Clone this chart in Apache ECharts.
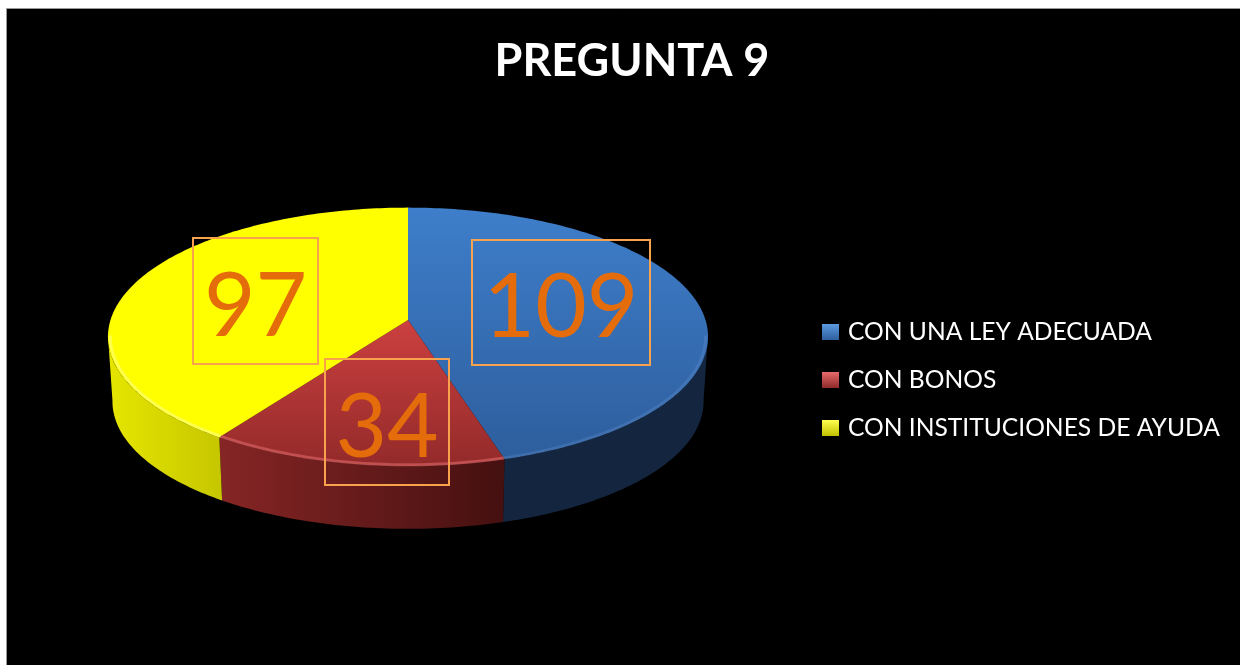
<!DOCTYPE html>
<html>
<head>
<meta charset="utf-8">
<title>PREGUNTA 9</title>
<script src="https://cdn.jsdelivr.net/npm/echarts@6/dist/echarts.min.js"></script>
<style>
  html, body { margin: 0; padding: 0; background: #fff; overflow: hidden; }
  #chart { width: 1240px; height: 665px; }
</style>
</head>
<body>
<div id="chart"></div>
<script>
const categories = ['CON UNA LEY ADECUADA', 'CON BONOS', 'CON INSTITUCIONES DE AYUDA'];
const values = [109, 34, 97];

// slice looks, same order as categories
const topFrom = ['#3e7eca', '#cc4040', '#ffff00'];
const topTo = ['#2d5d9c', '#942a2a', '#ffff00'];
const wallFrom = ['#14263f', '#862525', '#e6e600'];
const wallTo = ['#14263f', '#451010', '#c6c600'];
const rimColor = ['rgba(125,165,225,0.22)', 'rgba(235,115,115,0.5)', 'rgba(255,255,130,0.6)'];
const legendFrom = ['#5b9ae0', '#e86a6a', '#ffff50'];
const legendTo = ['#2f5f9f', '#8e2a2a', '#c0c000'];

// label boxes [x, y, w, h]
const labelBoxes = [[472, 240, 178, 125], [325, 359, 124, 126], [193, 238, 125, 126]];

// the tilted disc, a circle seen in perspective
const cx = 408;
const cy = 320;
const radius = 297.5;
const flat = 127;
const persp = 0.13;
const wallDrop = 65;
const wallShrink = 0.985;
const seenFrom = 97;
const seenTo = 263;

const total = values.reduce((a, b) => a + b, 0);

function discPoint(deg, scale, drop) {
  const t = deg * Math.PI / 180;
  const w = 1 + persp * Math.cos(t);
  return [cx + radius * scale * Math.sin(t) / w, cy + drop - flat * scale * Math.cos(t) / w];
}

function arc(from, to, scale, drop) {
  const pts = [];
  const n = Math.max(1, Math.ceil(to - from));
  for (let i = 0; i <= n; i++) {
    pts.push(discPoint(from + (to - from) * i / n, scale, drop));
  }
  return pts;
}

function gradient(x, y, x2, y2, c1, c2, global) {
  return { type: 'linear', x, y, x2, y2, global, colorStops: [{ offset: 0, color: c1 }, { offset: 1, color: c2 }] };
}

function renderSlice(params, api) {
  const i = params.seriesIndex;
  const before = values.slice(0, i).reduce((a, b) => a + b, 0);
  const start = before / total * 360;
  const end = (before + api.value(0)) / total * 360;
  const children = [];

  const a0 = Math.max(start, seenFrom);
  const a1 = Math.min(end, seenTo);
  if (a1 > a0) {
    const upper = arc(a0, a1, 1, 0);
    const lower = arc(a0, a1, wallShrink, wallDrop).reverse();
    const xs = upper.concat(lower).map((p) => p[0]);
    children.push({
      type: 'polygon',
      z2: 1,
      shape: { points: upper.concat(lower) },
      style: { fill: gradient(Math.min(...xs), 0, Math.max(...xs), 0, i === 0 ? wallTo[i] : wallFrom[i], i === 0 ? wallFrom[i] : wallTo[i], true) },
    });
  }

  children.push({
    type: 'polygon',
    z2: 2,
    shape: { points: [[cx, cy]].concat(arc(start, end, 1, 0)) },
    style: { fill: gradient(0, i === 1 ? cy : 208, 0, 465, topFrom[i], topTo[i], true) },
  });

  if (a1 > a0) {
    children.push({
      type: 'polyline',
      z2: 3,
      shape: { points: arc(a0, a1, 0.992, 0) },
      style: { fill: 'none', stroke: rimColor[i], lineWidth: 3 },
    });
  }

  const box = labelBoxes[i];
  children.push({
    type: 'rect',
    z2: 10,
    shape: { x: box[0], y: box[1], width: box[2], height: box[3] },
    style: { fill: 'none', stroke: '#f9a24e', lineWidth: 2 },
  });
  children.push({
    type: 'text',
    z2: 11,
    style: {
      x: box[0] + box[2] / 2,
      y: box[1] + box[3] / 2 + 6,
      text: String(api.value(0)),
      fill: '#e46c0a',
      font: '89px Lato, "Open Sans", sans-serif',
      align: 'center',
      verticalAlign: 'middle',
    },
  });
  return { type: 'group', children };
}

const chart = echarts.init(document.getElementById('chart'), null, { renderer: 'canvas' });
chart.setOption({
  animation: false,
  backgroundColor: '#ffffff',
  graphic: [
    {
      type: 'rect',
      z: -10,
      shape: { x: 6.5, y: 8.5, width: 1250, height: 680 },
      style: { fill: '#000000', stroke: '#999999', lineWidth: 1 },
    },
  ],
  title: {
    text: 'PREGUNTA 9',
    left: 627,
    top: 34,
    textAlign: 'center',
    textStyle: { color: '#ffffff', fontFamily: 'Lato, "Open Sans", sans-serif', fontWeight: 'bold', fontSize: 45 },
  },
  legend: {
    orient: 'vertical',
    left: 817,
    top: 313,
    selectedMode: false,
    icon: 'rect',
    itemWidth: 17,
    itemHeight: 16,
    itemGap: 20,
    data: categories,
    textStyle: { color: '#ffffff', fontFamily: 'Lato, "Open Sans", sans-serif', fontSize: 24.6, lineHeight: 28, padding: [0, 0, 0, 4] },
  },
  series: categories.map((name, i) => ({
    type: 'custom',
    name,
    coordinateSystem: 'none',
    silent: true,
    itemStyle: { color: gradient(0, 0, 0, 1, legendFrom[i], legendTo[i], false) },
    renderItem: renderSlice,
    data: [values[i]],
  })),
});
</script>
</body>
</html>
